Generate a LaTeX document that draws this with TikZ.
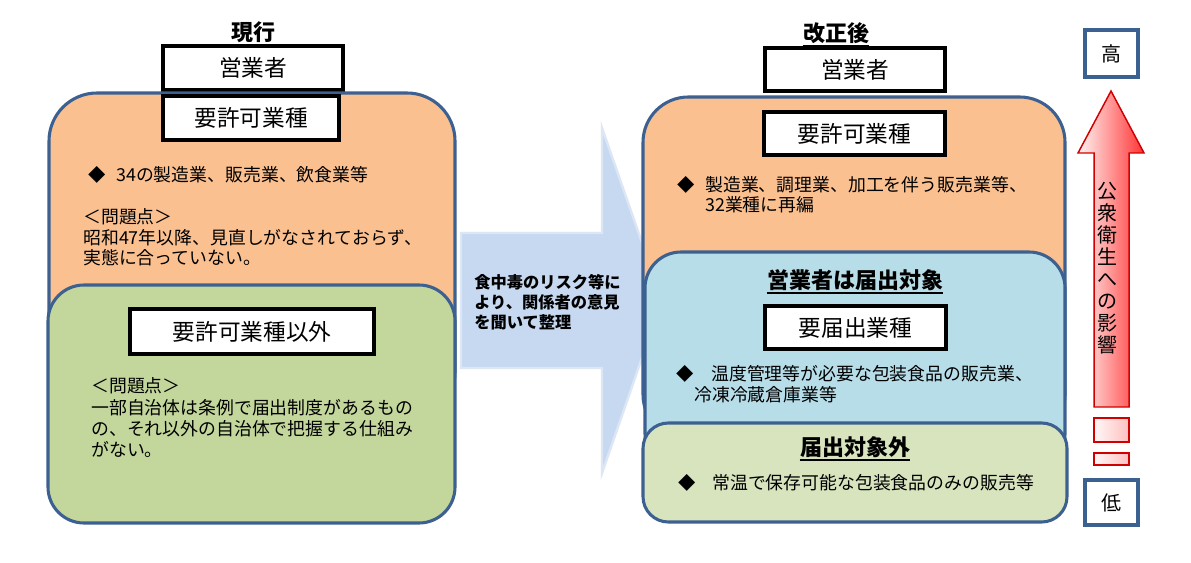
\documentclass[tikz,border=0pt]{standalone}
\usepackage{fontspec}
\setmainfont{Noto Sans CJK JP}
\definecolor{bordc}{HTML}{3C6090}
\definecolor{orangef}{HTML}{FAC090}
\definecolor{greenL}{HTML}{C3D69B}
\definecolor{blueR}{HTML}{B7DDE8}
\definecolor{greenR}{HTML}{D7E4BD}
\definecolor{arrowf}{HTML}{C6D9F1}
\definecolor{arrowd}{HTML}{DCE6F4}
\definecolor{redd}{HTML}{D00000}
\begin{document}
\begin{tikzpicture}[x=0.75pt,y=-0.75pt,
  bigbox/.style={draw=bordc, line width=2.3pt, rectangle, inner sep=0pt},
  lbox/.style={draw=black, fill=white, line width=2.6pt, rectangle, inner sep=0pt, font=\fontsize{17}{20}\selectfont},
  bodytxt/.style={inner sep=0pt, align=left, anchor=west, font=\fontsize{13.4}{15.5}\selectfont},
  dia/.style={inner sep=0pt, font=\fontsize{13}{15.5}\selectfont},
  ttl/.style={inner sep=0pt, font=\bfseries\fontsize{16.5}{20}\selectfont},
  uline/.style={line width=1.1pt},
  hlbox/.style={draw=bordc, fill=white, line width=3pt, rectangle, inner sep=0pt, font=\fontsize{15}{18}\selectfont},
  redbox/.style={draw=redd, line width=1.1pt, left color=red!3, right color=red!25}
]
\useasboundingbox (0,0) rectangle (1191,563);
\fill[white] (0,0) rectangle (1191,563);

% ---------- left side ----------
\node[ttl] (tL) at (253.5,32) {現行};
\draw[uline] ([yshift=-1.5pt]tL.south west) -- ([yshift=-1.5pt]tL.south east);
\node[lbox, minimum width=135pt, minimum height=33pt] (eL) at (253,68) {営業者};
\node[bigbox, fill=orangef, rounded corners=36pt, minimum width=304.5pt, minimum height=245.25pt] (oL) at (252,256.5) {};
\node[lbox, minimum width=132pt, minimum height=33pt] (kL) at (251,118) {要許可業種};
\node[dia] (dL1) at (96.7,175) {◆};
\node[bodytxt] (sL1) at (116,175) {34の製造業、販売業、飲食業等};
\node[bodytxt] (pL1) at (83,237.5) {＜問題点＞\\昭和47年以降、見直しがなされておらず、\\実態に合っていない。};
\node[bigbox, fill=greenL, rounded corners=27pt, minimum width=305.25pt, minimum height=178.5pt] (gL) at (251.5,404) {};
\node[lbox, minimum width=183pt, minimum height=33.75pt] (xL) at (252,331.5) {要許可業種以外};
\node[bodytxt, font=\fontsize{13.4}{16}\selectfont] (pL2) at (91,418) {＜問題点＞\\一部自治体は条例で届出制度があるもの\\の、それ以外の自治体で把握する仕組み\\がない。};

% ---------- middle arrow ----------
\draw[fill=arrowf, draw=arrowd, line width=1.8pt] (461,233) -- (602,233) -- (602,128) -- (662,300) -- (602,473) -- (602,368) -- (461,368) -- cycle;
\node[inner sep=0pt, align=left, anchor=west, font=\bfseries\fontsize{12.2}{15}\selectfont] (mA) at (474,302) {食中毒のリスク等に\\より、関係者の意見\\を聞いて整理};

% ---------- right side ----------
\node[ttl] (tR) at (836,33) {改正後};
\draw[uline] ([yshift=-1.5pt]tR.south west) -- ([yshift=-1.5pt]tR.south east);
\node[lbox, minimum width=135pt, minimum height=32.25pt] (eR) at (855,69.5) {営業者};
\node[bigbox, fill=orangef, rounded corners=34pt, minimum width=316.5pt, minimum height=257.25pt] (oR) at (854,268.5) {};
\node[lbox, minimum width=135.75pt, minimum height=32.25pt] (kR) at (854.5,133.5) {要許可業種};
\node[dia] (dR1) at (686,185) {◆};
\node[bodytxt, font=\fontsize{13.4}{15}\selectfont] (sR1) at (705,195) {製造業、調理業、加工を伴う販売業等、\\32業種に再編};
\node[bigbox, fill=blueR, rounded corners=27pt, minimum width=315pt, minimum height=163.5pt] (bR) at (855,361) {};
\node[ttl] (hR) at (855,280) {営業者は届出対象};
\draw[uline] ([yshift=-1.5pt]hR.south west) -- ([yshift=-1.5pt]hR.south east);
\node[lbox, minimum width=135.75pt, minimum height=32.25pt] (fR) at (855.5,327.5) {要届出業種};
\node[dia] (dR2) at (685,374) {◆};
\node[bodytxt] (sR2) at (711,374) {温度管理等が必要な包装食品の販売業、};
\node[bodytxt] (sR3) at (694,395) {冷凍冷蔵倉庫業等};
\node[bigbox, fill=greenR, rounded corners=19pt, minimum width=318pt, minimum height=74.25pt] (gR) at (855,472.5) {};
\node[ttl] (nR) at (855,447) {届出対象外};
\draw[uline] ([yshift=-1.5pt]nR.south west) -- ([yshift=-1.5pt]nR.south east);
\node[dia] (dR3) at (687,483) {◆};
\node[bodytxt] (sR4) at (712,483) {常温で保存可能な包装食品のみの販売等};

% ---------- right column ----------
\node[hlbox, minimum width=39.75pt, minimum height=35.25pt] (hi) at (1111.5,53.5) {高};
\node[hlbox, minimum width=39.75pt, minimum height=33.75pt] (lo) at (1111.5,502.5) {低};
\draw[redbox, left color=red!4, right color=red!80] (1094,407) -- (1094,153) -- (1078,153) -- (1111,91) -- (1144,153) -- (1129,153) -- (1129,407) -- cycle;
\node[inner sep=0pt, align=center, font=\fontsize{15}{16.5}\selectfont] (vt) at (1107,268.5) {公\\衆\\衛\\生\\へ\\の\\影\\響};
\draw[redbox] (1094,418) rectangle (1129,442);
\draw[redbox] (1094,453) rectangle (1129,465);
\end{tikzpicture}
\end{document}
